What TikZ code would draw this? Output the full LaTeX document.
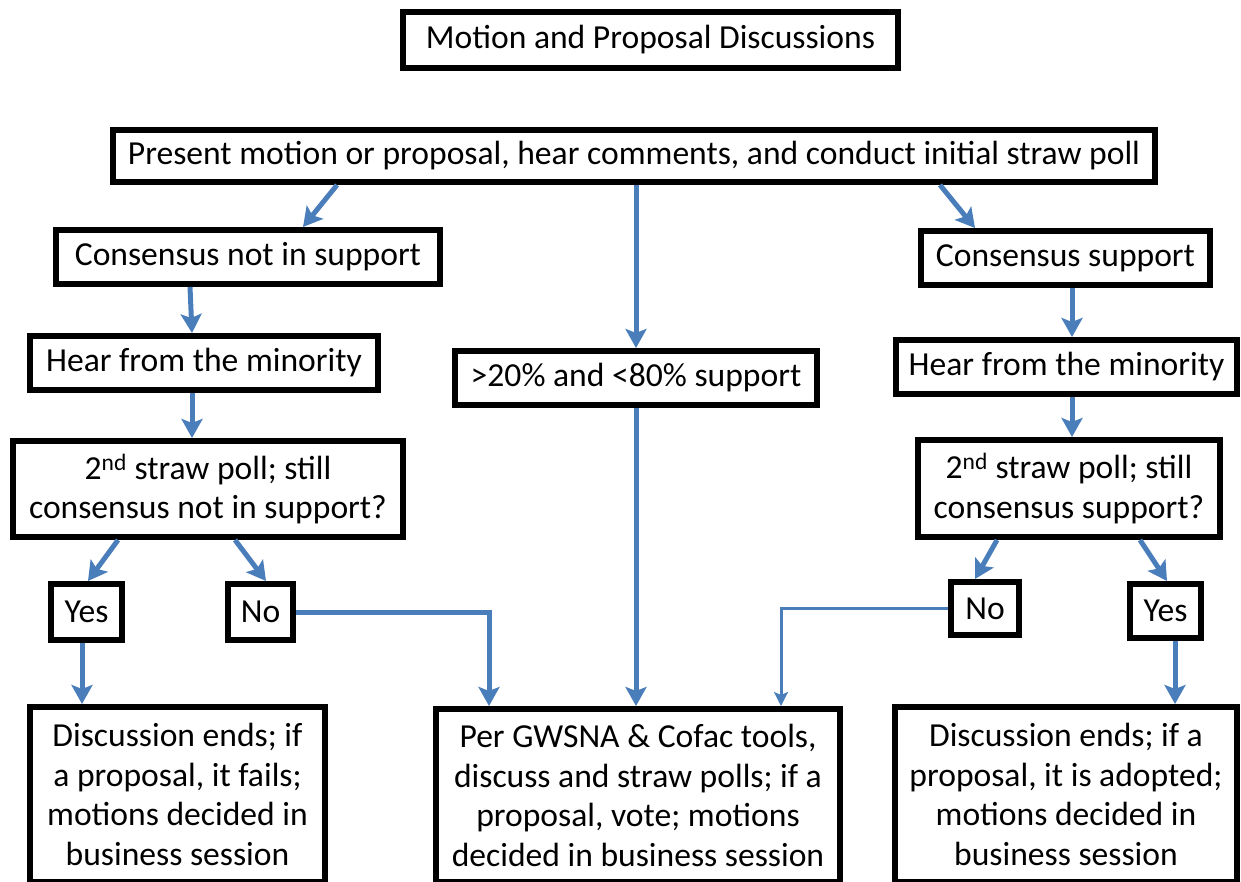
\documentclass[tikz,border=0pt]{standalone}
\usepackage{fontspec}
\setmainfont{Carlito}
\usepackage{tikz}
\usetikzlibrary{arrows.meta,positioning}
\usepackage{xcolor}
\definecolor{flowblue}{HTML}{4A7EBB}
\tikzset{
  box/.style={draw=black, line width=6pt, align=center, inner sep=0pt, font=\fontsize{33.6}{39.5}\selectfont},
  arrow/.style={draw=flowblue, -{Stealth[length=19pt,width=21pt,inset=4pt]}, line width=5pt},
  thinarrow/.style={draw=flowblue, -{Stealth[length=14pt,width=14pt,inset=3pt]}, line width=3pt}
}

\begin{document}
\begin{tikzpicture}[x=1pt, y=-1pt]
\useasboundingbox (0,0) rectangle (1241,882);
\node[box, minimum width=495pt, minimum height=56pt] (title) at (650.5,40) {Motion and Proposal Discussions};
\node[box, minimum width=1042pt, minimum height=52pt] (present) at (634,156) {Present motion or proposal, hear comments, and conduct initial straw poll};
% left branch
\node[box, minimum width=384pt, minimum height=54pt] (oppose) at (248,257) {Consensus not in support};
\node[box, minimum width=348pt, minimum height=54pt] (hearopp) at (204,363) {Hear from the minority};
\node[box, minimum width=390pt, minimum height=96pt] (pollopp) at (208,489) {2\textsuperscript{nd} straw poll; still\\consensus not in support?};
\node[box, minimum width=71pt, minimum height=56pt] (yesopp) at (86.5,612) {Yes};
\node[box, minimum width=65pt, minimum height=56pt] (noopp) at (260.5,612) {No};
\node[box, minimum width=295pt, minimum height=175pt] (fails) at (177.5,794.5) {Discussion ends; if\\a proposal, it fails;\\motions decided in\\business session};
% middle
\node[box, minimum width=362pt, minimum height=54pt] (split) at (636,378) {>20\% and <80\% support};
\node[box, minimum width=404pt, minimum height=173pt] (pergw) at (638,795.5) {Per GWSNA \& Cofac tools,\\discuss and straw polls; if a\\proposal, vote; motions\\decided in business session};
% right branch
\node[box, minimum width=289pt, minimum height=54pt] (support) at (1065.5,258) {Consensus support};
\node[box, minimum width=341pt, minimum height=54pt] (hearsup) at (1066.5,367) {Hear from the minority};
\node[box, minimum width=302pt, minimum height=97pt] (pollsup) at (1069,488.5) {2\textsuperscript{nd} straw poll; still\\consensus support?};
\node[box, minimum width=68pt, minimum height=53pt] (nosup) at (985,608.5) {No};
\node[box, minimum width=71pt, minimum height=54pt] (yessup) at (1165.5,611) {Yes};
\node[box, minimum width=342pt, minimum height=175pt] (adopted) at (1066,794.5) {Discussion ends; if a\\proposal, it is adopted;\\motions decided in\\business session};

\draw[arrow] ([xshift=-297pt]present.south) -- ([xshift=55pt]oppose.north);
\draw[arrow] (present.south -| split) -- (split.north);
\draw[arrow] ([xshift=306pt]present.south) -- ([xshift=-90.5pt]support.north);
\draw[arrow] ([xshift=-58pt]oppose.south) -- ([xshift=-12pt]hearopp.north);
\draw[arrow] ([xshift=-12pt]hearopp.south) -- ([xshift=-16pt]pollopp.north);
\draw[arrow] ([xshift=-90pt]pollopp.south) -- ([xshift=1.5pt]yesopp.north);
\draw[arrow] ([xshift=27pt]pollopp.south) -- ([xshift=5.5pt]noopp.north);
\draw[arrow] ([xshift=-4.5pt]yesopp.south) -- ([xshift=-95.5pt]fails.north);
\draw[arrow] (noopp.east) -| ([xshift=-149pt]pergw.north);
\draw[arrow] (split.south) -- (split.south |- pergw.north);
\draw[thinarrow] (nosup.west) -| ([xshift=143pt]pergw.north);
\draw[arrow] ([xshift=6.5pt]support.south) -- ([xshift=5.5pt]hearsup.north);
\draw[arrow] ([xshift=5.5pt]hearsup.south) -- ([xshift=3pt]pollsup.north);
\draw[arrow] ([xshift=-72pt]pollsup.south) -- ([xshift=-10pt]nosup.north);
\draw[arrow] ([xshift=71pt]pollsup.south) -- ([xshift=1.5pt]yessup.north);
\draw[arrow] ([xshift=9.5pt]yessup.south) -- ([xshift=109pt]adopted.north);
\end{tikzpicture}
\end{document}
